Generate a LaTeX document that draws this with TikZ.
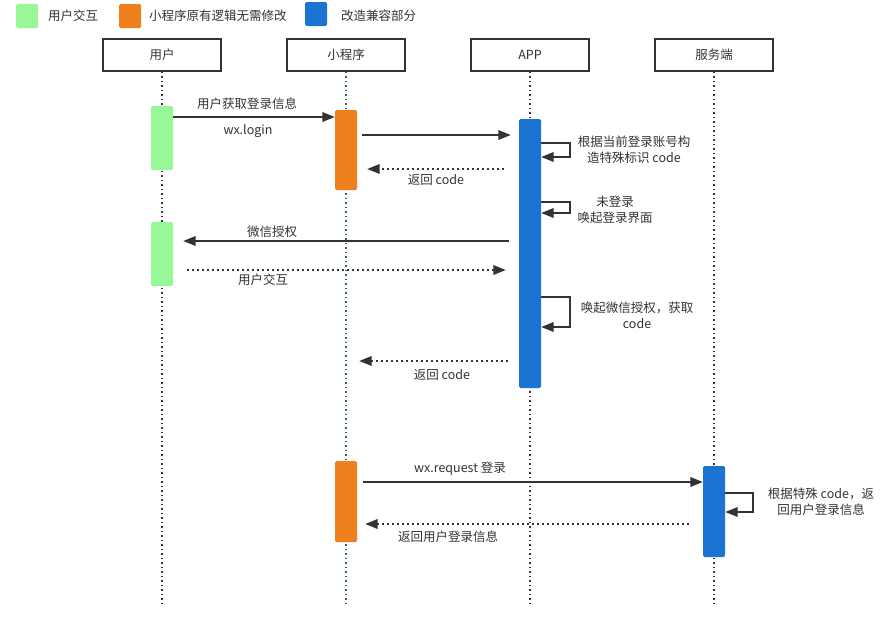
\documentclass[tikz,border=0pt]{standalone}
\usepackage{fontspec}
\setmainfont{Noto Sans CJK SC}
\usetikzlibrary{arrows.meta}
\definecolor{ugreen}{RGB}{152,248,152}
\definecolor{uorange}{RGB}{239,128,30}
\definecolor{ublue}{RGB}{27,115,210}
\definecolor{ink}{RGB}{51,51,51}
\definecolor{tealdot}{RGB}{45,110,105}
\newcommand\lblfont{\fontsize{12.5}{16}\selectfont}
\begin{document}
\begin{tikzpicture}[x=1pt,y=-1pt,
  head/.style={draw=ink, line width=1.8pt, minimum width=118pt, minimum height=32pt, inner sep=0pt, font=\lblfont, text=ink},
  bar/.style={rounded corners=1.5pt, minimum width=22pt, inner sep=0pt},
  legsq/.style={rounded corners=1.5pt, minimum width=22pt, minimum height=24pt, inner sep=0pt},
  msg/.style={draw=ink, line width=2pt, -{Triangle[length=12.5pt,width=9.5pt]}},
  ret/.style={msg, dash pattern=on 2pt off 3pt},
  lifeline/.style={line width=1.5pt, dash pattern=on 1.5pt off 3pt},
  lbl/.style={text=ink, font=\lblfont, align=center, inner sep=0pt},
  leg/.style={text=ink, font=\lblfont, anchor=west, inner sep=0pt}]
\useasboundingbox (0,0) rectangle (894,621);
\fill[white] (0,0) rectangle (894,621);

% legend
\node[legsq, fill=ugreen] (lg1) at (27,16) {};
\node[leg] (lt1) at (48,16) {用户交互};
\node[legsq, fill=uorange] (lg2) at (130,16) {};
\node[leg] (lt2) at (149,16) {小程序原有逻辑无需修改};
\node[legsq, fill=ublue] (lg3) at (316,14) {};
\node[leg] (lt3) at (341,16) {改造兼容部分};

% heads
\node[head] (hu) at (162,55) {用户};
\node[head] (hm) at (346,55) {小程序};
\node[head] (ha) at (530,55) {APP};
\node[head] (hs) at (714,55) {服务端};

\coordinate (eu) at (162,605);
\coordinate (em) at (346,605);
\coordinate (ea) at (530,605);
\coordinate (es) at (714,604);
\draw[lifeline, ink] (hu.south) -- (eu);
\draw[lifeline, tealdot] (hm.south) -- (em);
\draw[lifeline, ink] (ha.south) -- (ea);
\draw[lifeline, ink] (hs.south) -- (es);

% activation bars
\node[bar, fill=ugreen, minimum height=64pt] (g1) at (162,138) {};
\node[bar, fill=uorange, minimum height=80pt] (o1) at (346,150) {};
\node[bar, fill=ublue, minimum height=269pt] (b1) at (530,253.5) {};
\node[bar, fill=ugreen, minimum height=64pt] (g2) at (162,254) {};
\node[bar, fill=uorange, minimum height=81pt] (o2) at (346,501.5) {};
\node[bar, fill=ublue, minimum height=91pt] (s1) at (714,511.5) {};

% y levels
\coordinate (y1) at (0,117);
\coordinate (y2) at (0,135);
\coordinate (y3) at (0,169);
\coordinate (l1a) at (0,143);
\coordinate (l1b) at (0,157);
\coordinate (l2a) at (0,202);
\coordinate (l2b) at (0,213);
\coordinate (y6) at (0,241);
\coordinate (y7) at (0,270);
\coordinate (l3a) at (0,297);
\coordinate (l3b) at (0,327);
\coordinate (y9) at (0,361);
\coordinate (y10) at (0,482);
\coordinate (y11) at (0,524);
\coordinate (l4a) at (0,493);
\coordinate (l4b) at (0,512);

% messages
\draw[msg] (g1.east |- y1) -- (o1.west |- y1);
\node[lbl] (t1) at (247,104) {用户获取登录信息};
\node[lbl] (t1b) at (248,131) {wx.login};

\draw[msg] ([xshift=5pt]o1.east |- y2) -- ([xshift=-8pt]b1.west |- y2);

\draw[ret] ([xshift=-15pt]b1.west |- y3) -- ([xshift=10pt]o1.east |- y3);
\node[lbl] (t3) at (436,180) {返回 code};

\draw[msg] (b1.east |- l1a) -- ++(29,0) -- ++(0,14) -- (b1.east |- l1b);
\node[lbl] (t4) at (634,150) {根据当前登录账号构\\造特殊标识 code};

\draw[msg] (b1.east |- l2a) -- ++(29,0) -- ++(0,11) -- (b1.east |- l2b);
\node[lbl] (t5) at (615,210) {未登录\\唤起登录界面};

\draw[msg] ([xshift=-10pt]b1.west |- y6) -- ([xshift=10pt]g2.east |- y6);
\node[lbl] (t6) at (272,232) {微信授权};

\draw[ret] ([xshift=14pt]g2.east |- y7) -- ([xshift=-13pt]b1.west |- y7);
\node[lbl] (t7) at (263,280) {用户交互};

\draw[msg] (b1.east |- l3a) -- ++(29,0) -- ++(0,30) -- (b1.east |- l3b);
\node[lbl] (t8) at (637,315) {唤起微信授权，获取\\code};

\draw[ret] ([xshift=-11pt]b1.west |- y9) -- ([xshift=2pt]o1.east |- y9);
\node[lbl] (t9) at (442,375) {返回 code};

\draw[msg] ([xshift=6pt]o2.east |- y10) -- (s1.west |- y10);
\node[lbl] (t10) at (460,469) {wx.request 登录};

\draw[ret] ([xshift=-14pt]s1.west |- y11) -- ([xshift=8pt]o2.east |- y11);
\node[lbl] (t11) at (448,537) {返回用户登录信息};

\draw[msg] (s1.east |- l4a) -- ++(28,0) -- ++(0,19) -- (s1.east |- l4b);
\node[lbl] (t12) at (821,502) {根据特殊 code，返\\回用户登录信息};
\end{tikzpicture}
\end{document}
